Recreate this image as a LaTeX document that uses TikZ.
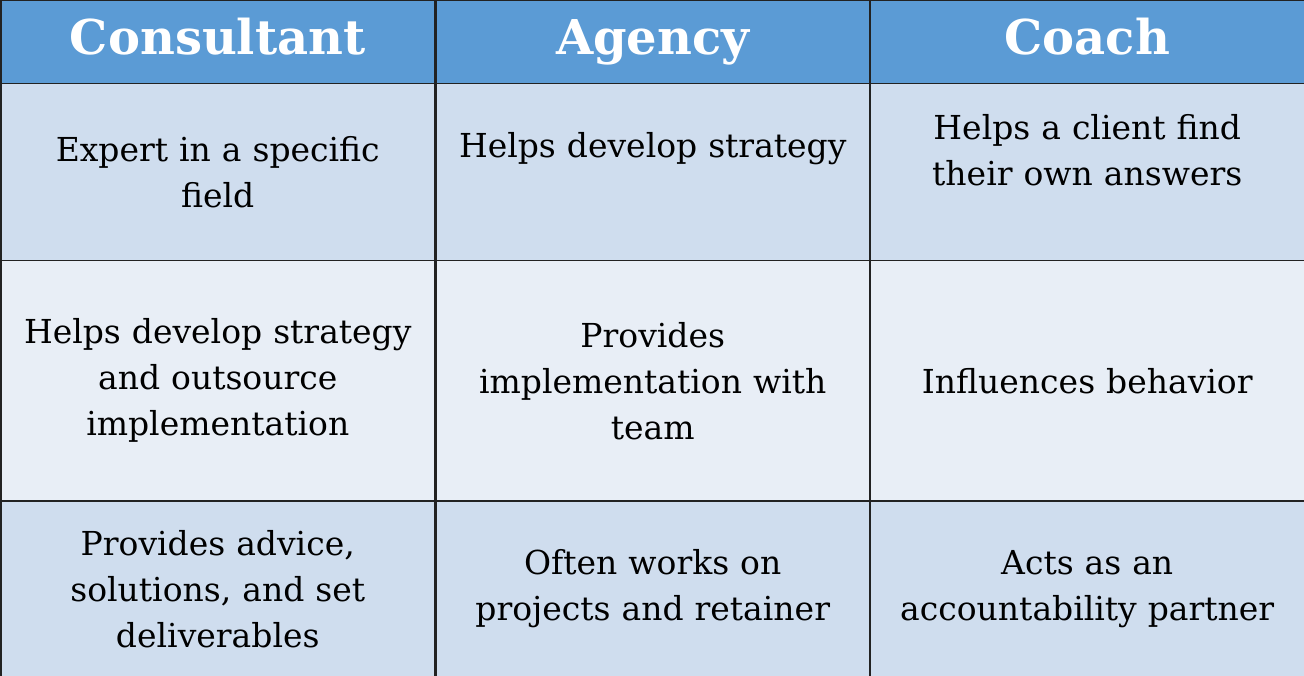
\documentclass[tikz,border=0pt]{standalone}
\usepackage{fontspec}
\setmainfont{DejaVu Serif}
\definecolor{hdr}{HTML}{5B9BD5}
\definecolor{rowa}{HTML}{CFDDEE}
\definecolor{rowb}{HTML}{E8EEF6}
\definecolor{grid}{HTML}{222222}
\begin{document}
\begin{tikzpicture}[x=1pt,y=-1pt,
  cell/.style={draw=grid,line width=1.5pt,minimum width=434pt,inner sep=0pt,anchor=north west,align=center},
  head/.style={cell,fill=hdr,text=white,font=\fontsize{48}{52}\selectfont\bfseries,minimum height=83pt,text height=34pt,text depth=10pt},
  body/.style={cell,font=\fontsize{33}{46}\selectfont,text width=430pt}]
\useasboundingbox (0,0) rectangle (1304,676);
\node[head] (h1) at (0,0) {Consultant};
\node[head] (h2) at (435,0) {Agency};
\node[head,minimum width=435pt] (h3) at (869,0) {Coach};
\node[body,fill=rowa,minimum height=177pt] (a1) at (0,83) {Expert in a specific\\field};
\node[body,fill=rowa,minimum height=177pt] (a2) at (435,83) {Helps develop strategy\\[8pt]\mbox{}};
\node[body,fill=rowa,minimum height=177pt,minimum width=435pt] (a3) at (869,83) {Helps a client find\\their own answers\\[-2pt]\mbox{}};
\node[body,fill=rowb,minimum height=240pt] (b1) at (0,260) {Helps develop strategy\\and outsource\\implementation};
\node[body,fill=rowb,minimum height=240pt] (b2) at (435,260) {Provides\\implementation with\\team};
\node[body,fill=rowb,minimum height=240pt,minimum width=435pt] (b3) at (869,260) {Influences behavior};
\node[body,fill=rowa,minimum height=176pt] (c1) at (0,500) {Provides advice,\\solutions, and set\\deliverables};
\node[body,fill=rowa,minimum height=176pt] (c2) at (435,500) {Often works on\\projects and retainer};
\node[body,fill=rowa,minimum height=176pt,minimum width=435pt] (c3) at (869,500) {Acts as an\\accountability partner};
\end{tikzpicture}
\end{document}
